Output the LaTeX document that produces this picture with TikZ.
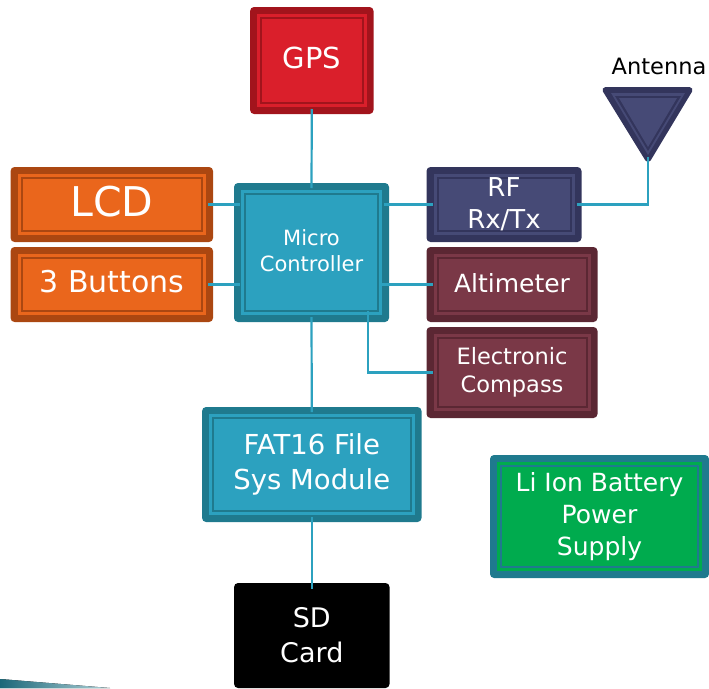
\documentclass[tikz,border=0pt]{standalone}
\usepackage{fontspec}
\setmainfont{DejaVu Sans}
\definecolor{reddark}{HTML}{A2141C}
\definecolor{redfill}{HTML}{DA1F2B}
\definecolor{orgdark}{HTML}{AB4711}
\definecolor{orgfill}{HTML}{EA661C}
\definecolor{tealdark}{HTML}{1F7A8E}
\definecolor{tealfill}{HTML}{2CA1BF}
\definecolor{navydark}{HTML}{33355C}
\definecolor{navyfill}{HTML}{464A76}
\definecolor{mardark}{HTML}{5B2733}
\definecolor{marfill}{HTML}{7A3847}
\definecolor{grnfill}{HTML}{00AB4E}
\newcommand{\fs}[2]{\fontsize{#1}{#2}\selectfont}
\tikzset{
  blockbase/.style={rectangle, rounded corners=4pt, text=white, align=center, inner sep=0pt, outer sep=0pt},
  framed/.style 2 args={blockbase, fill=#1, path picture={
    \fill[#2, sharp corners] ([shift={(7pt,-7pt)}]path picture bounding box.north west) rectangle ([shift={(-7pt,7pt)}]path picture bounding box.south east);
    \fill[#1, sharp corners] ([shift={(10pt,-10pt)}]path picture bounding box.north west) rectangle ([shift={(-10pt,10pt)}]path picture bounding box.south east);
    \fill[#2, sharp corners] ([shift={(12pt,-12pt)}]path picture bounding box.north west) rectangle ([shift={(-12pt,12pt)}]path picture bounding box.south east);
  }},
  wire/.style={draw=tealfill, line width=2.2pt, line join=miter},
}
\begin{document}
\begin{tikzpicture}[x=1pt,y=-1pt]
\useasboundingbox (0,0) rectangle (709,688);
% bottom-left decoration
\fill[left color=tealdark!85!black, right color=tealdark!35] (0,679) -- (110,688) -- (0,688) -- cycle;

\node[framed={reddark}{redfill}, minimum width=123.5pt, minimum height=107pt, font=\fs{29}{34}, text depth=6pt] (gps) at (311.8,60.5) {GPS};
\node[framed={orgdark}{orgfill}, minimum width=202.5pt, minimum height=75pt, font=\fs{41}{46}, text depth=7pt] (lcd) at (111.8,204.5) {LCD};
\node[framed={orgdark}{orgfill}, minimum width=202.5pt, minimum height=75pt, font=\fs{30}{36}, text depth=6pt] (btn) at (111.8,284.5) {3 Buttons};
\node[framed={tealdark}{tealfill}, minimum width=155pt, minimum height=139pt, font=\fs{21}{26}, text depth=4pt] (mc) at (311.5,252.5) {Micro\\Controller};
\node[framed={navydark}{navyfill}, minimum width=155pt, minimum height=75pt, font=\fs{26}{32}, text depth=3pt] (rf) at (504,204.5) {RF\\Rx/Tx};
\node[framed={mardark}{marfill}, minimum width=171pt, minimum height=75pt, font=\fs{25}{30}, text depth=4pt] (alt) at (512,284.5) {Altimeter};
\node[framed={mardark}{marfill}, minimum width=171pt, minimum height=91pt, font=\fs{22.5}{28}] (cmp) at (512,372.5) {Electronic\\Compass};
\node[framed={tealdark}{tealfill}, minimum width=219.5pt, minimum height=115pt, font=\fs{27.5}{35}] (fat) at (311.8,464.5) {FAT16 File\\Sys Module};
\node[blockbase, fill=black, minimum width=155.5pt, minimum height=105pt, font=\fs{27}{35}] (sd) at (311.8,635.5) {SD\\Card};
\node[framed={tealdark}{grnfill}, minimum width=219pt, minimum height=123pt, font=\fs{25}{32}] (bat) at (599.5,516.5) {Li Ion Battery\\Power\\Supply};

% antenna
\node[text=black, font=\fs{22.5}{27}, inner sep=0pt] (antlabel) at (659,66.5) {Antenna};
\fill[navydark, draw=navydark, line width=6pt, line join=round] (605.5,90) -- (689.5,90) -- (648,159) -- cycle;
\fill[navyfill] (611,93) -- (685,93) -- (648,155) -- cycle;
\fill[navydark] (615,96) -- (681,96) -- (648,151) -- cycle;
\fill[navyfill] (619,98) -- (677,98) -- (648,147) -- cycle;
\coordinate (ant) at (648,157);

% connectors
\draw[wire] ([yshift=5pt]gps.south) -- ([yshift=-5pt]mc.north);
\draw[wire] ([xshift=-5pt]lcd.east) -- ([xshift=6pt]mc.west |- lcd.east);
\draw[wire] ([xshift=-5pt]btn.east) -- ([xshift=6pt]mc.west |- btn.east);
\draw[wire] ([xshift=-5pt]mc.east |- rf.west) -- ([xshift=6pt]rf.west);
\draw[wire] ([xshift=-5pt]rf.east) -| (ant);
\draw[wire] ([xshift=-10pt]mc.east |- alt.west) -- ([xshift=6pt]alt.west);
\coordinate (mcout) at (368,311);
\draw[wire] (mcout) |- ([xshift=6pt]cmp.west);
\draw[wire] ([yshift=5pt]mc.south) -- ([yshift=-5pt]fat.north);
\draw[wire] ([yshift=5pt]fat.south) -- ([yshift=-6pt]sd.north);
\end{tikzpicture}
\end{document}
